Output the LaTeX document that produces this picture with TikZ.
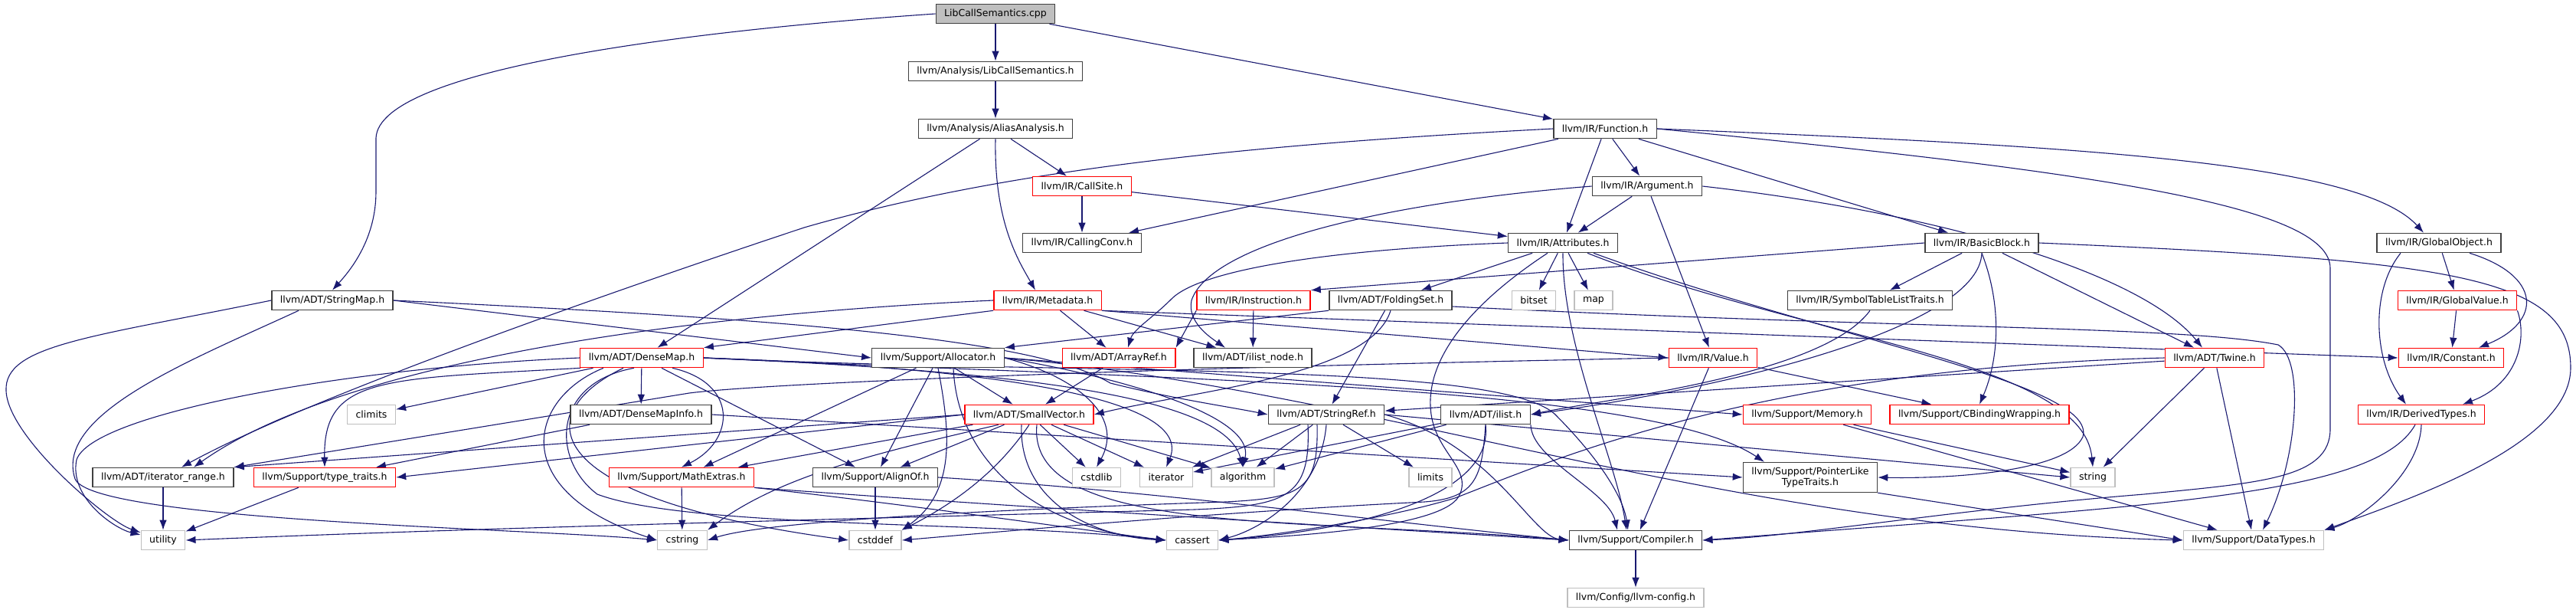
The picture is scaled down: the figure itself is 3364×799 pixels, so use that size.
\documentclass[tikz,border=0pt]{standalone}
\usepackage{fontspec}
\setmainfont{DejaVu Sans}
\usetikzlibrary{arrows.meta,backgrounds}
\definecolor{edgeblue}{HTML}{191970}
\definecolor{sysgray}{HTML}{BFBFBF}

\begin{document}
\begin{tikzpicture}[x=0.5pt,y=-0.5pt,
    hdr/.style={draw=black!75, fill=white, line width=0.7pt, minimum height=12.6pt,
      inner xsep=5.5pt, inner ysep=1pt, font=\fontsize{6.25}{7.4}\selectfont},
    redhdr/.style={hdr, draw=red},
    syshdr/.style={hdr, draw=sysgray},
    srcfile/.style={hdr, fill=sysgray},
    inc/.style={draw=edgeblue, line width=0.55pt, -{Latex[length=6.5pt,width=4.8pt]}}]
  \useasboundingbox (0,0) rectangle (3364,799);

  \node[srcfile] (cpp) at (1300,18) {LibCallSemantics.cpp};
  \node[hdr] (lcsh) at (1300,93) {llvm/Analysis/LibCallSemantics.h};
  \node[hdr] (aa) at (1300,168) {llvm/Analysis/AliasAnalysis.h};
  \node[hdr] (func) at (2096,168) {llvm/IR/Function.h};
  \node[redhdr] (callsite) at (1413,243) {llvm/IR/CallSite.h};
  \node[hdr] (arg) at (2151,243) {llvm/IR/Argument.h};
  \node[hdr] (callconv) at (1413,317) {llvm/IR/CallingConv.h};
  \node[hdr] (attr) at (2041,317) {llvm/IR/Attributes.h};
  \node[hdr] (bb) at (2588,317) {llvm/IR/BasicBlock.h};
  \node[hdr] (gobj) at (3185,317) {llvm/IR/GlobalObject.h};
  \node[hdr] (smap) at (434,392) {llvm/ADT/StringMap.h};
  \node[redhdr] (meta) at (1368,392) {llvm/IR/Metadata.h};
  \node[redhdr] (inst) at (1637,392) {llvm/IR/Instruction.h};
  \node[hdr] (fset) at (1816,392) {llvm/ADT/FoldingSet.h};
  \node[syshdr] (bitset) at (2003,392) {bitset};
  \node[syshdr] (map) at (2081,392) {map};
  \node[hdr] (stlt) at (2442,392) {llvm/IR/SymbolTableListTraits.h};
  \node[redhdr] (gval) at (3209,392) {llvm/IR/GlobalValue.h};
  \node[redhdr] (dmap) at (838,467) {llvm/ADT/DenseMap.h};
  \node[hdr] (alloc) at (1225,467) {llvm/Support/Allocator.h};
  \node[redhdr] (aref) at (1461,467) {llvm/ADT/ArrayRef.h};
  \node[hdr] (ilnode) at (1636,467) {llvm/ADT/ilist\_node.h};
  \node[redhdr] (value) at (2237,467) {llvm/IR/Value.h};
  \node[redhdr] (twine) at (2892,467) {llvm/ADT/Twine.h};
  \node[redhdr] (const) at (3201,467) {llvm/IR/Constant.h};
  \node[syshdr] (climits) at (485,541) {climits};
  \node[hdr] (dmi) at (837,541) {llvm/ADT/DenseMapInfo.h};
  \node[redhdr] (svec) at (1344,541) {llvm/ADT/SmallVector.h};
  \node[hdr] (sref) at (1732,541) {llvm/ADT/StringRef.h};
  \node[hdr] (ilist) at (1940,541) {llvm/ADT/ilist.h};
  \node[redhdr] (memory) at (2360,541) {llvm/Support/Memory.h};
  \node[redhdr] (cbw) at (2585,541) {llvm/Support/CBindingWrapping.h};
  \node[redhdr] (dtypes) at (3162,541) {llvm/IR/DerivedTypes.h};
  \node[hdr] (itrange) at (213,623) {llvm/ADT/iterator\_range.h};
  \node[redhdr] (ttraits) at (424,623) {llvm/Support/type\_traits.h};
  \node[redhdr] (mathx) at (890,623) {llvm/Support/MathExtras.h};
  \node[hdr] (alignof) at (1143,623) {llvm/Support/AlignOf.h};
  \node[syshdr] (cstdlib) at (1432,623) {cstdlib};
  \node[syshdr] (iterator) at (1523,623) {iterator};
  \node[syshdr] (algorithm) at (1623,623) {algorithm};
  \node[syshdr] (limits) at (1868,623) {limits};
  \node[hdr, align=center, minimum height=19.5pt] (pltt) at (2364,623) {llvm/Support/PointerLike\\TypeTraits.h};
  \node[syshdr] (string) at (2733,623) {string};
  \node[syshdr] (utility) at (213,705) {utility};
  \node[syshdr] (cstring) at (891,705) {cstring};
  \node[syshdr] (cstddef) at (1143,705) {cstddef};
  \node[syshdr] (cassert) at (1557,705) {cassert};
  \node[hdr] (compiler) at (2136,705) {llvm/Support/Compiler.h};
  \node[syshdr] (datatypes) at (2943,705) {llvm/Support/DataTypes.h};
  \node[syshdr] (config) at (2136,780) {llvm/Config/llvm-config.h};

  \begin{scope}[on background layer]
    \foreach \a/\b in {cpp/lcsh, cpp/func, lcsh/aa, aa/callsite, aa/dmap, callsite/callconv,
        callsite/attr, func/callconv, func/attr, func/arg, func/bb, arg/attr, arg/value,
        attr/fset, attr/bitset, attr/map, bb/stlt, bb/twine, gobj/gval, gval/const,
        meta/aref, meta/ilnode, inst/ilnode, fset/sref, alloc/svec, alloc/alignof,
        alloc/mathx, aref/svec, dmap/dmi, dmap/climits, dmap/alignof, dmi/ttraits,
        svec/mathx, svec/alignof, svec/cstdlib, svec/iterator, svec/algorithm,
        sref/limits, sref/iterator, sref/algorithm, ilist/algorithm, ilist/iterator,
        value/compiler, value/cbw, twine/sref, twine/string, twine/datatypes,
        memory/string, memory/datatypes, itrange/utility, ttraits/utility,
        mathx/cstring, alignof/cstddef, compiler/config}
      \draw[inc] (\a) -- (\b);

    \draw[inc] (meta.south west) -- (dmap.north east);
    \draw[inc] (meta.south east) -- (value.west);
    \draw[inc] (meta.south east) -- (const.west);
    \draw[inc] (bb.west) -- (inst.north east);
    \draw[inc] (inst.south west) -- (aref.north east);
    \draw[inc] (fset.south west) -- (alloc.north east);
    \draw[inc] (smap.east) -- (alloc.west);
    \draw[inc] (dmi.east) -- (pltt.west);
    \draw[inc] (alloc.east) -- (memory.west);
    \draw[inc] (svec.west) -- (itrange.north east);
    \draw[inc] (svec.west) -- (ttraits.east);
    \draw[inc] (sref.east) -- (string.west);
    \draw[inc] (pltt.south east) -- (datatypes.west);

    \draw[inc] (cpp.west) .. controls (900,40) and (495,90) .. (491,180) -- (491,250)
      .. controls (491,310) and (460,350) .. (smap.north);
    \draw[inc] (aa.south) .. controls (1298,290) and (1330,340) .. ([xshift=-8pt]meta.north);
    \draw[inc] (func.west) .. controls (1600,190) and (1300,225) .. (1050,297)
      .. controls (800,380) and (400,520) .. ([xshift=12pt]itrange.north);
    \draw[inc] (func.east) .. controls (2700,190) and (3080,210) .. ([xshift=-10pt]gobj.north);
    \draw[inc] (func.east) .. controls (2750,225) and (3043,270) .. (3043,350) -- (3043,560)
      .. controls (3043,625) and (2950,630) .. (2800,645)
      .. controls (2550,665) and (2350,700) .. (compiler.east);
    \draw[inc] (arg.west) .. controls (1800,265) and (1580,320) .. (1556,392)
      .. controls (1550,420) and (1580,440) .. ([xshift=-18pt]ilnode.north);
    \draw[inc] (arg.east) .. controls (2550,280) and (2800,360) .. ([xshift=-8pt]twine.north);
    \draw[inc] (attr.west) .. controls (1750,325) and (1570,350) .. (1530,390)
      .. controls (1505,415) and (1480,430) .. ([xshift=6pt]aref.north);
    \draw[inc] ([xshift=-10pt]attr.south) .. controls (1930,390) and (1865,460) .. (1868,530)
      .. controls (1870,590) and (1925,610) .. (1905,648)
      .. controls (1880,690) and (1680,700) .. (cassert.east);
    \draw[inc] (attr.south) .. controls (2040,450) and (2110,600) .. ([xshift=-6pt]compiler.north);
    \draw[inc] ([xshift=20pt]attr.south) .. controls (2380,440) and (2740,500) .. (2720,570)
      .. controls (2700,615) and (2550,625) .. (pltt.east);
    \draw[inc] ([xshift=16pt]attr.south) .. controls (2350,440) and (2720,470) .. (string.north);
    \draw[inc] (bb.south) .. controls (2585,420) and (2300,500) .. (ilist.east);
    \draw[inc] (bb.south) .. controls (2615,400) and (2610,470) .. (cbw.north);
    \draw[inc] (bb.east) .. controls (3200,340) and (3357,360) .. (3357,480)
      .. controls (3357,580) and (3150,650) .. (datatypes.north east);
    \draw[inc] ([xshift=20pt]gobj.south) .. controls (3320,360) and (3320,420) .. ([xshift=18pt]const.north);
    \draw[inc] ([xshift=-25pt]gobj.south) .. controls (3095,380) and (3100,470) .. ([xshift=-10pt]dtypes.north);
    \draw[inc] (gval.south east) .. controls (3300,440) and (3290,500) .. ([xshift=27pt]dtypes.north);
    \draw[inc] (stlt.south) .. controls (2380,490) and (2100,520) .. (ilist.east);
    \draw[inc] (smap.west) .. controls (120,440) and (5,450) .. (8,510)
      .. controls (10,570) and (140,680) .. (utility);
    \draw[inc] ([xshift=-22pt]smap.south) .. controls (250,470) and (70,540) .. (98,625)
      .. controls (120,680) and (700,690) .. (cstring.west);
    \draw[inc] (smap.east) .. controls (1000,415) and (1350,440) .. (1450,500)
      .. controls (1530,520) and (1600,530) .. (sref.west);
    \draw[inc] (meta.west) .. controls (900,410) and (450,470) .. ([xshift=20pt]itrange.north);
    \draw[inc] (fset.south) .. controls (1790,490) and (1560,510) .. (svec.east);
    \draw[inc] ([yshift=-4pt]fset.east) .. controls (2500,430) and (2850,425) .. (2975,450)
      .. controls (3010,470) and (3000,600) .. ([xshift=6pt]datatypes.north);
    \draw[inc] (dmap.west) .. controls (450,480) and (120,540) .. (100,600)
      .. controls (90,650) and (150,690) .. (utility);
    \draw[inc] ([xshift=-40pt]dmap.south) .. controls (500,495) and (422,490) .. (ttraits.north);
    \draw[inc] ([xshift=-25pt]dmap.south) .. controls (690,520) and (660,640) .. (cstring.west);
    \draw[inc] ([xshift=-12pt]dmap.south) .. controls (690,540) and (700,650) .. (cstddef.west);
    \draw[inc] ([xshift=-5pt]dmap.south) .. controls (720,500) and (720,600) .. (780,645)
      .. controls (900,690) and (1300,680) .. (cassert.west);
    \draw[inc] ([xshift=20pt]dmap.south) .. controls (965,500) and (960,575) .. (mathx.north);
    \draw[inc] (dmap.east) .. controls (1300,480) and (1560,520) .. (iterator.north);
    \draw[inc] (dmap.east) .. controls (1350,485) and (1600,520) .. (algorithm.north);
    \draw[inc] (dmap.east) .. controls (1400,490) and (1950,470) .. (2030,540)
      .. controls (2090,600) and (2120,650) .. ([xshift=-5pt]compiler.north);
    \draw[inc] (dmap.east) .. controls (1500,495) and (2150,500) .. ([xshift=-30pt]pltt.north);
    \draw[inc] (alloc.east) .. controls (1800,510) and (2250,690) .. (datatypes.west);
    \draw[inc] (alloc.east) .. controls (1450,490) and (1640,540) .. (algorithm.north);
    \draw[inc] (alloc.east) .. controls (1400,490) and (1470,540) .. (cstdlib.north);
    \draw[inc] (alloc.south) .. controls (1240,560) and (1250,640) .. (cstddef.north east);
    \draw[inc] ([xshift=10pt]alloc.south) .. controls (1250,600) and (1350,690) .. (cassert.west);
    \draw[inc] ([xshift=-20pt]svec.south) .. controls (1150,590) and (1020,620) .. (cstring.north east);
    \draw[inc] (svec.south) .. controls (1300,620) and (1240,660) .. (cstddef.north east);
    \draw[inc] ([xshift=-5pt]svec.south) .. controls (1330,650) and (1420,700) .. (cassert.west);
    \draw[inc] ([xshift=5pt]svec.south) .. controls (1340,700) and (1700,675) .. (compiler.west);
    \draw[inc] (sref.east) .. controls (1950,580) and (2000,700) .. (compiler.west);
    \draw[inc] (sref.south) .. controls (1725,640) and (1650,690) .. (cassert.east);
    \draw[inc] ([xshift=-6pt]sref.south) .. controls (1722,640) and (1700,650) .. (1600,655)
      .. controls (1300,665) and (1000,680) .. (cstring.east);
    \draw[inc] ([xshift=-12pt]sref.south) .. controls (1712,650) and (1680,660) .. (1560,665)
      .. controls (1000,680) and (600,690) .. (utility.east);
    \draw[inc] (ilist.south east) .. controls (2000,600) and (2100,640) .. ([xshift=-12pt]compiler.north);
    \draw[inc] (ilist.south) .. controls (1950,640) and (1800,690) .. (cassert.east);
    \draw[inc] (ilist.south) .. controls (1935,620) and (1930,650) .. (1860,655)
      .. controls (1600,668) and (1350,690) .. (cstddef.east);
    \draw[inc] (twine.west) .. controls (2300,480) and (2030,600) .. (1900,650)
      .. controls (1800,680) and (1650,700) .. (cassert.east);
    \draw[inc] (value.west) .. controls (1500,480) and (1000,500) .. (900,513) -- (itrange.north east);
    \draw[inc] (mathx.south east) .. controls (1300,660) and (1800,690) .. (compiler.west);
    \draw[inc] (mathx.south east) .. controls (1200,660) and (1400,690) .. (cassert.west);
    \draw[inc] (alignof.east) .. controls (1500,640) and (1800,680) .. (compiler.west);
    \draw[inc] (dtypes.south) .. controls (3160,620) and (3080,680) .. (datatypes.north east);
    \draw[inc] ([xshift=-4pt]dtypes.south) .. controls (3100,650) and (2800,660) .. (compiler.east);
  \end{scope}
\end{tikzpicture}
\end{document}
